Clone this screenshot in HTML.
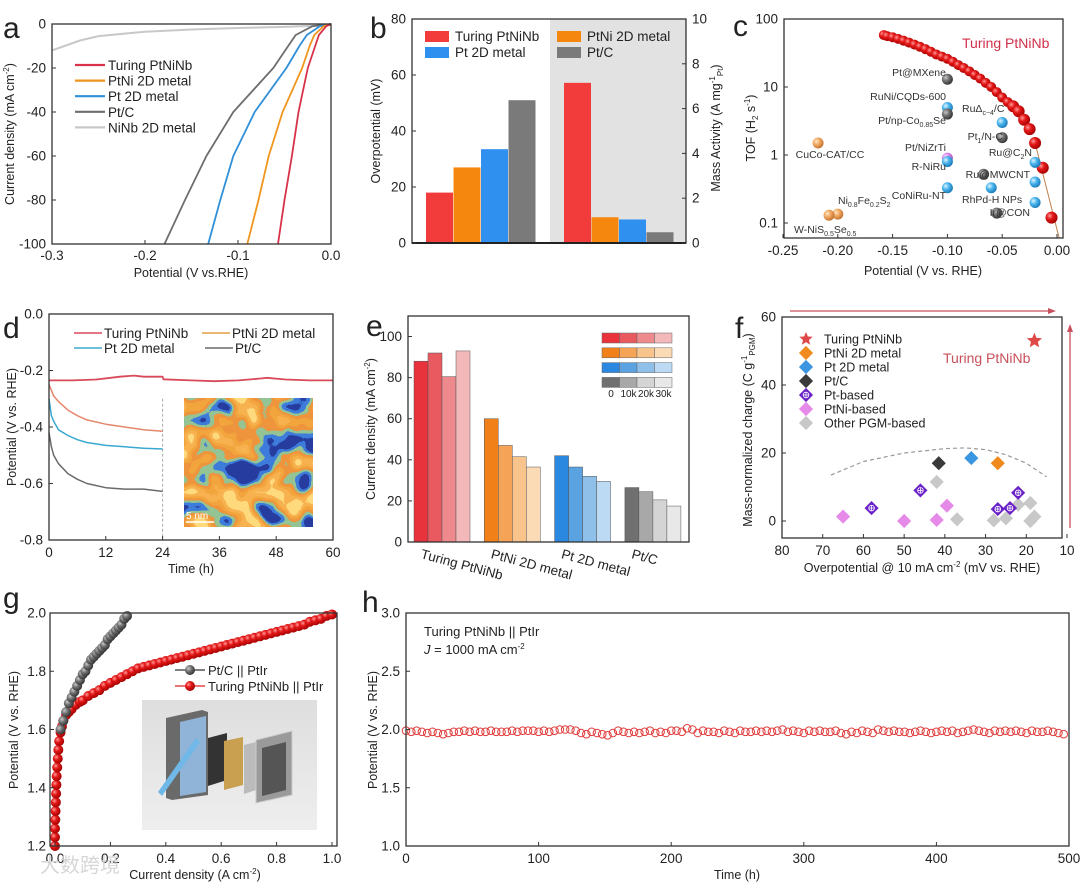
<!DOCTYPE html>
<html><head><meta charset="utf-8"><style>
html,body{margin:0;padding:0;background:#fff}
svg{display:block;font-family:"Liberation Sans","Noto Sans CJK SC",sans-serif}
</style></head><body>
<svg id="fig" width="1080" height="883" viewBox="0 0 1080 883" xmlns="http://www.w3.org/2000/svg">
<defs>
<radialGradient id="gRed" cx="35%" cy="35%" r="70%"><stop offset="0" stop-color="#ff9a9a"/><stop offset="0.4" stop-color="#e41818"/><stop offset="1" stop-color="#a00000"/></radialGradient>
<radialGradient id="gGray" cx="35%" cy="35%" r="70%"><stop offset="0" stop-color="#c8c8c8"/><stop offset="0.45" stop-color="#707070"/><stop offset="1" stop-color="#303030"/></radialGradient>
<radialGradient id="gBlue" cx="35%" cy="35%" r="70%"><stop offset="0" stop-color="#e0f4ff"/><stop offset="0.45" stop-color="#48b4ec"/><stop offset="1" stop-color="#1a78b8"/></radialGradient>
<radialGradient id="gOrange" cx="35%" cy="35%" r="70%"><stop offset="0" stop-color="#ffe6c8"/><stop offset="0.45" stop-color="#f0a860"/><stop offset="1" stop-color="#c07030"/></radialGradient>
<radialGradient id="gPink" cx="35%" cy="35%" r="70%"><stop offset="0" stop-color="#ffe0ff"/><stop offset="0.45" stop-color="#d888e8"/><stop offset="1" stop-color="#a050c0"/></radialGradient>
<filter id="stem" x="0" y="0" width="100%" height="100%">
<feTurbulence type="fractalNoise" baseFrequency="0.035" numOctaves="2" seed="11" result="n"/>
<feColorMatrix in="n" type="matrix" values="1 0 0 0 0  1 0 0 0 0  1 0 0 0 0  0 0 0 0 1"/>
<feComponentTransfer>
<feFuncR type="linear" slope="2.2" intercept="-0.6"/>
<feFuncG type="linear" slope="2.2" intercept="-0.6"/>
<feFuncB type="linear" slope="2.2" intercept="-0.6"/>
</feComponentTransfer>
<feComponentTransfer>
<feFuncR type="discrete" tableValues="0.02 0.05 0.3 0.85 0.9 0.93 1"/>
<feFuncG type="discrete" tableValues="0.05 0.2 0.55 0.3 0.38 0.45 0.7"/>
<feFuncB type="discrete" tableValues="0.35 0.7 0.3 0.05 0.05 0.08 0.2"/>
</feComponentTransfer>
</filter>
<linearGradient id="inkBg" x1="0" y1="0" x2="0" y2="1"><stop offset="0" stop-color="#dedede"/><stop offset="1" stop-color="#eeeeee"/></linearGradient>
</defs>
</svg>
<script>
// ---------- DATA ----------
// panel a
const aJ = [0,-1,-5,-10,-20,-40,-60,-80,-100];
const aTuring = [0,-0.005,-0.013,-0.017,-0.025,-0.035,-0.042,-0.050,-0.057];
const aPtNi = [0,-0.008,-0.018,-0.023,-0.031,-0.052,-0.067,-0.078,-0.090];
const aPt = [0,-0.012,-0.026,-0.034,-0.048,-0.082,-0.105,-0.119,-0.132];
const aPtC = [0,-0.02,-0.038,-0.046,-0.062,-0.105,-0.134,-0.157,-0.179];
const aNiNbV = [-0.3,-0.27,-0.25,-0.2,-0.15,-0.1,-0.05,0];
const aNiNbJ = [-12,-7.5,-5.5,-3.5,-2.5,-1.8,-1.3,-0.5];
const aTicksX = [-0.3,-0.2,-0.1,0.0];
const aTickLabelsX = ['-0.3','-0.2','-0.1','0.0'];
const aTicksY = [0,-20,-40,-60,-80,-100];
// panel b
const bCats = ['Turing PtNiNb','PtNi 2D metal','Pt 2D metal','Pt/C'];
const bOverpot = [18,27,33.5,51];
const bMassAct = [7.15,1.15,1.05,0.48];
const bTicksL = [0,20,40,60,80];
const bTicksR = [0,2,4,6,8,10];
// panel c
const cV = [-0.158,-0.155,-0.15,-0.145,-0.14,-0.135,-0.13,-0.125,-0.12,-0.115,-0.11,-0.105,-0.10,-0.095,-0.09,-0.085,-0.08,-0.075,-0.07,-0.065,-0.06,-0.055,-0.05,-0.045,-0.04,-0.035,-0.03,-0.025,-0.02,-0.013,-0.005];
const cTOF = [58,56,54,51,48,45,42,39,36,33,30,28,26,23.5,21,19,17,15,13.3,11.5,10,8.4,7,6,5.2,4.4,3.3,2.4,1.5,0.65,0.12];
const cOthNames = ['Pt@MXene','RuNi/CQDs-600','Pt/np-Co0.85Se','RuΔ/C','Pt1/N-C','CuCo-CAT/CC','Pt/NiZrTi','R-NiRu','Ru@C2N','Ru@MWCNT','CoNiRu-NT','RhPd-H NPs','Ir@CON','Ni0.8Fe0.2S2','W-NiS0.5Se0.5','Ru@MWCNT-b','Ir@CON-b'];
const cOthV = [-0.1,-0.1,-0.1,-0.05,-0.05,-0.218,-0.1,-0.1,-0.02,-0.02,-0.1,-0.06,-0.02,-0.2,-0.208,-0.067,-0.055];
const cOthTOF = [13,5,4,3.0,1.8,1.5,0.9,0.8,0.78,0.4,0.33,0.33,0.2,0.135,0.13,0.52,0.14];
const cOthCol = ['gGray','gBlue','gGray','gBlue','gGray','gOrange','gPink','gBlue','gBlue','gBlue','gBlue','gBlue','gBlue','gOrange','gOrange','gGray','gGray'];
const cTicksX = [-0.25,-0.20,-0.15,-0.10,-0.05,0.00];
const cTicksY = [0.1,1,10,100];
// panel d
const dTuringT = [0,5,10,15,18,20,24,24.2,30,35,40,45,46,50,55,60];
const dTuringV = [-0.235,-0.235,-0.232,-0.222,-0.218,-0.222,-0.222,-0.231,-0.235,-0.238,-0.235,-0.228,-0.226,-0.232,-0.235,-0.235];
const dPtNiT = [0,1,2,4,6,8,12,16,20,24];
const dPtNiV = [-0.25,-0.29,-0.31,-0.34,-0.36,-0.375,-0.39,-0.40,-0.41,-0.415];
const dPtT = [0,0.5,1,2,4,6,8,12,16,20,24];
const dPtV = [-0.30,-0.36,-0.38,-0.41,-0.43,-0.445,-0.455,-0.465,-0.47,-0.475,-0.478];
const dPtCT = [0,0.5,1,2,4,6,8,12,16,20,24];
const dPtCV = [-0.42,-0.47,-0.50,-0.53,-0.565,-0.585,-0.60,-0.615,-0.62,-0.62,-0.628];
const dTicksX = [0,12,24,36,48,60];
const dTicksY = [0,-0.2,-0.4,-0.6,-0.8];
// panel e
const eCats = ['Turing PtNiNb','PtNi 2D metal','Pt 2D metal','Pt/C'];
const eCycles = ['0','10k','20k','30k'];
const eTuring = [88,92,80.5,93];
const ePtNi = [60,47,41.5,36.5];
const ePt = [42,36.5,32,29.5];
const ePtC = [26.5,24.5,20.5,17.5];
const eTicksY = [0,20,40,60,80,100];
// panel f
const fStarX = [18], fStarY = [53];
const fPtNi2DX = [27], fPtNi2DY = [17];
const fPt2DX = [33.5], fPt2DY = [18.5];
const fPtCX = [41.5], fPtCY = [17];
const fPtBasedX = [58,46,27,24,22], fPtBasedY = [3.8,9,3.5,3.8,8.3];
const fPtNiBasedX = [65,50,42,39.5], fPtNiBasedY = [1.3,0,0.3,4.5];
const fOtherX = [42,37,28,25,22,19,19,18], fOtherY = [11.5,0.5,0.2,0.8,4.8,5.3,0,1.3];
const fTrendX = [68,60,50,40,35,30,25,20,15], fTrendY = [13.5,17.5,20,21.3,21.5,21,19.5,17,13];
const fTicksX = [80,70,60,50,40,30,20,10];
const fTicksY = [0,20,40,60];
// panel g
const gPtCJ = [0.02,0.03,0.04,0.05,0.06,0.07,0.08,0.09,0.10,0.11,0.12,0.13,0.14,0.15,0.16,0.17,0.18,0.19,0.20,0.21,0.22,0.23,0.24,0.25,0.26];
const gPtCV = [1.6,1.63,1.66,1.69,1.71,1.73,1.75,1.77,1.79,1.80,1.82,1.84,1.85,1.86,1.87,1.88,1.89,1.91,1.92,1.93,1.94,1.95,1.96,1.98,1.99];
const gTurJ = [0,0,0,0.001,0.002,0.003,0.004,0.005,0.006,0.008,0.01,0.012,0.015,0.02,0.025,0.03,0.04,0.05,0.06,0.075,0.09,0.1,0.12,0.14,0.16,0.18,0.2,0.22,0.24,0.26,0.28,0.3,0.32,0.34,0.36,0.38,0.4,0.42,0.44,0.46,0.48,0.5,0.52,0.54,0.56,0.58,0.6,0.62,0.64,0.66,0.68,0.7,0.72,0.74,0.76,0.78,0.8,0.82,0.84,0.86,0.88,0.9,0.92,0.94,0.96,0.98,1.0];
const gTurV = [1.2,1.23,1.26,1.29,1.32,1.35,1.38,1.41,1.44,1.47,1.50,1.53,1.56,1.59,1.61,1.63,1.65,1.66,1.67,1.685,1.695,1.70,1.715,1.725,1.735,1.75,1.76,1.77,1.78,1.79,1.80,1.81,1.815,1.82,1.825,1.83,1.835,1.84,1.845,1.85,1.855,1.86,1.865,1.87,1.875,1.88,1.885,1.89,1.895,1.90,1.905,1.91,1.915,1.92,1.925,1.93,1.935,1.94,1.945,1.95,1.955,1.96,1.97,1.975,1.98,1.99,1.995];
const gTicksX = [0,0.2,0.4,0.6,0.8,1.0];
const gTicksY = [1.2,1.4,1.6,1.8,2.0];
// panel h
const hStart = 0, hStep = 4;
const hV = [1.99,1.98,1.99,1.98,1.97,1.98,1.97,1.96,1.97,1.98,1.98,1.99,1.98,1.99,1.98,1.98,1.99,1.98,1.98,1.98,1.99,1.98,1.99,1.99,1.99,1.98,1.99,1.98,1.99,2.00,2.00,2.00,1.99,1.97,1.96,1.98,1.97,1.96,1.95,1.97,1.99,1.98,1.97,1.98,1.97,1.98,1.99,1.97,1.98,1.97,1.99,1.99,1.98,2.01,2.00,1.97,1.99,1.98,1.98,1.97,1.99,1.98,1.97,1.99,1.98,1.98,1.99,1.98,1.99,1.98,1.99,2.00,1.98,1.99,1.98,1.97,1.99,1.98,1.99,1.98,1.98,1.99,1.97,1.96,1.98,1.97,1.99,1.98,1.97,2.00,1.99,1.98,1.99,1.98,1.98,1.97,1.98,1.99,1.98,1.97,1.98,1.99,1.98,1.99,1.97,1.98,1.99,2.00,1.99,1.98,1.97,1.99,1.98,1.99,1.98,1.99,1.98,1.97,1.99,1.98,1.98,1.99,1.98,1.97,1.96];
const hTicksX = [0,100,200,300,400,500];
const hTicksY = [1.0,1.5,2.0,2.5,3.0];

// ---------- HELPERS ----------
const NS = 'http://www.w3.org/2000/svg';
const svg = document.getElementById('fig');
function mk(tag, name, attrs, parent) {
  const e = document.createElementNS(NS, tag);
  
  
  for (const k in attrs) e.setAttribute(k, attrs[k]);
  (parent || svg).appendChild(e);
  return e;
}
function T(x, y, s, name, o) {
  o = o || {};
  const at = {x: x, y: y, 'font-size': o.fs || 13.5, 'text-anchor': o.a || 'middle', fill: o.c || '#222'};
  if (o.r) at.transform = 'rotate(' + o.r + ' ' + x + ' ' + y + ')';
  if (o.w) at['font-weight'] = o.w;
  const e = mk('text', name, at, o.p);
  e.innerHTML = s;
  return e;
}
function frame(x0, y0, x1, y1, name) {
  return mk('rect', name, {x: x0, y: y0, width: x1 - x0, height: y1 - y0, fill: 'none', stroke: '#333', 'stroke-width': 1.3});
}
function line(x1, y1, x2, y2, name, st, w, dash) {
  const a = {x1: x1, y1: y1, x2: x2, y2: y2, stroke: st || '#333', 'stroke-width': w || 1};
  if (dash) a['stroke-dasharray'] = dash;
  return mk('line', name, a);
}
function poly(xs, ys, sx, sy, name, col, w) {
  const pts = xs.map((v, i) => sx(v).toFixed(1) + ',' + sy(ys[i]).toFixed(1)).join(' ');
  return mk('polyline', name, {points: pts, fill: 'none', stroke: col, 'stroke-width': w || 1.8, 'stroke-linejoin': 'round'});
}
function xTicks(vals, labels, sx, yb, ly, name, fs) {
  vals.forEach((v, i) => {
    line(sx(v), yb, sx(v), yb - 4, name + '-tick', '#333', 1);
    T(sx(v), ly, labels ? labels[i] : String(v), name + '-label', {fs: fs || 13.5});
  });
}
function yTicks(vals, labels, sy, xl, lx, name, dir, fs) {
  dir = dir || 1;
  vals.forEach((v, i) => {
    line(xl, sy(v), xl + 4 * dir, sy(v), name + '-tick', '#333', 1);
    T(lx, sy(v) + 4.5, labels ? labels[i] : String(v), name + '-label', {fs: fs || 13.5, a: dir > 0 ? 'end' : 'start'});
  });
}
function letter(x, y, s) { T(x, y, s, 'panel-label-' + s, {fs: 30, a: 'start'}); }

// ---------- PANEL A ----------
const sxA = v => 52 + (v + 0.3) / 0.3 * 279;
const syA = j => 24 + (-j) / 100 * 220;
letter(3, 38, 'a');
poly(aNiNbV, aNiNbJ, sxA, syA, 'a-line-ninb', '#c8c8c8', 2);
poly(aPtC, aJ, sxA, syA, 'a-line-ptc', '#6e6e6e', 1.8);
poly(aPt, aJ, sxA, syA, 'a-line-pt', '#2f8fd8', 1.8);
poly(aPtNi, aJ, sxA, syA, 'a-line-ptni', '#f0961e', 1.8);
poly(aTuring, aJ, sxA, syA, 'a-line-turing', '#d8324a', 1.8);
frame(52, 24, 331, 244, 'a-plot-frame');
xTicks(aTicksX, aTickLabelsX, sxA, 244, 260, 'a-x');
yTicks(aTicksY, null, syA, 52, 46, 'a-y');
T(191, 277, 'Potential (V vs.RHE)', 'a-x-title', {fs: 12.5});
T(14, 134, 'Current density (mA cm<tspan dy="-5" font-size="8">-2</tspan><tspan dy="5">)</tspan>', 'a-y-title', {fs: 12.5, r: -90});
[['Turing PtNiNb', '#d8324a'], ['PtNi 2D metal', '#f0961e'], ['Pt 2D metal', '#2f8fd8'], ['Pt/C', '#6e6e6e'], ['NiNb 2D metal', '#c8c8c8']].forEach((d, i) => {
  const y = 65 + i * 15.6;
  line(75, y, 105, y, 'a-legend-line', d[1], 2.2);
  T(108, y + 5, d[0], 'a-legend-entry', {fs: 13.5, a: 'start'});
});

// ---------- PANEL B ----------
const syB = v => 243 - v / 80 * 224;
const syB2 = m => 243 - m / 10 * 224;
letter(370, 38, 'b');
mk('rect', 'b-mass-activity-bg', {x: 550, y: 19, width: 136, height: 224, fill: '#e2e2e2'});
const bColors = ['#f23c3c', '#f5870f', '#2f90f0', '#7a7a7a'];
bCats.forEach((c, i) => {
  const x = 426 + i * 27.5;
  mk('rect', 'b-bar-overpotential-' + i, {x: x, y: syB(bOverpot[i]), width: 27, height: 243 - syB(bOverpot[i]), fill: bColors[i]});
  const x2 = 564 + i * 27.5;
  mk('rect', 'b-bar-mass-activity-' + i, {x: x2, y: syB2(bMassAct[i]), width: 27, height: 243 - syB2(bMassAct[i]), fill: bColors[i]});
});
frame(412, 19, 686, 243, 'b-plot-frame');
line(412, 243, 686, 243, 'b-x-axis', '#222', 2);
yTicks(bTicksL, null, syB, 412, 406, 'b-y-left');
yTicks(bTicksR, null, syB2, 686, 692, 'b-y-right', -1);
T(380, 131, 'Overpotential (mV)', 'b-y-title-left', {fs: 12.5, r: -90});
T(720, 128, 'Mass Activity  (A mg<tspan dy="-5" font-size="8">-1</tspan><tspan dy="8" font-size="8">Pt</tspan><tspan dy="-3">)</tspan>', 'b-y-title-right', {fs: 12.5, r: -90});
[['Turing PtNiNb', 425, 39], ['Pt 2D metal', 425, 55], ['PtNi 2D metal', 557, 39], ['Pt/C', 557, 55]].forEach((d, i) => {
  const ci = [0, 2, 1, 3][i];
  mk('rect', 'b-legend-swatch', {x: d[1], y: d[2] - 8, width: 24, height: 11, fill: bColors[ci]});
  T(d[1] + 30, d[2] + 2, d[0], 'b-legend-entry', {fs: 13.5, a: 'start'});
});

// ---------- PANEL C ----------
const sxC = v => 783 + (v + 0.25) / 0.25 * 274;
const syC = t => 223 - (Math.log10(t) + 1) * 68;
letter(733, 36, 'c');
line(sxC(-0.02), syC(1.5), sxC(0.002), syC(0.06), 'c-fit-line', '#c0804a', 1);
cV.forEach((v, i) => {
  mk('circle', 'c-turing-point', {cx: sxC(v), cy: syC(cTOF[i]), r: i > 23 ? 6 : 5, fill: 'url(#gRed)'});
});
cOthV.forEach((v, i) => {
  mk('circle', 'c-ref-point-' + cOthNames[i], {cx: sxC(v), cy: syC(cOthTOF[i]), r: 5.5, fill: 'url(#' + cOthCol[i] + ')'});
});
[['Pt@MXene', 946, 76, 'end'], ['RuNi/CQDs-600', 946, 100, 'end'], ['Pt/np-Co<tspan dy="3" font-size="7">0.85</tspan><tspan dy="-3">Se</tspan>', 946, 124, 'end'],
 ['RuΔ<tspan dy="3" font-size="7">c−4</tspan><tspan dy="-3">/C</tspan>', 962, 112, 'start'], ['Pt<tspan dy="3" font-size="7">1</tspan><tspan dy="-3">/N-C</tspan>', 1003, 140, 'end'],
 ['CuCo-CAT/CC', 830, 158, 'middle'], ['Pt/NiZrTi', 946, 151, 'end'], ['R-NiRu', 946, 170, 'end'], ['Ru@C<tspan dy="3" font-size="7">2</tspan><tspan dy="-3">N</tspan>', 1032, 156, 'end'],
 ['Ru@MWCNT', 1030, 178, 'end'], ['CoNiRu-NT', 946, 199, 'end'], ['RhPd-H NPs', 962, 203, 'start'], ['Ir@CON', 1030, 216, 'end'],
 ['Ni<tspan dy="3" font-size="7">0.8</tspan><tspan dy="-3">Fe</tspan><tspan dy="3" font-size="7">0.2</tspan><tspan dy="-3">S</tspan><tspan dy="3" font-size="7">2</tspan>', 838, 204, 'start'],
 ['W-NiS<tspan dy="3" font-size="7">0.5</tspan><tspan dy="-3">Se</tspan><tspan dy="3" font-size="7">0.5</tspan>', 794, 233, 'start']].forEach(d => {
  T(d[1], d[2], d[0], 'c-point-label', {fs: 10.5, a: d[3], c: '#333'});
});
T(962, 48, 'Turing PtNiNb', 'c-turing-label', {fs: 14, a: 'start', c: '#d0314a'});
frame(784, 19, 1063, 238, 'c-plot-frame');
xTicks(cTicksX, ['-0.25', '-0.20', '-0.15', '-0.10', '-0.05', '0.00'], sxC, 238, 255, 'c-x');
yTicks(cTicksY, ['0.1', '1', '10', '100'], syC, 784, 778, 'c-y');
T(923, 275, 'Potential (V vs. RHE)', 'c-x-title', {fs: 12.5});
T(755, 128, 'TOF (H<tspan dy="3" font-size="8">2</tspan><tspan dy="-3"> s</tspan><tspan dy="-5" font-size="8">-1</tspan><tspan dy="5">)</tspan>', 'c-y-title', {fs: 12.5, r: -90});

// ---------- PANEL D ----------
const sxD = t => 49 + t / 60 * 284;
const syD = v => 314 + (-v) / 0.8 * 226;
letter(3, 338, 'd');
line(sxD(24), syD(-0.3), sxD(24), 540, 'd-divider-24h', '#aaa', 1, '3,2');
poly(dPtCT, dPtCV, sxD, syD, 'd-line-ptc', '#6a6a6a', 1.5);
poly(dPtT, dPtV, sxD, syD, 'd-line-pt', '#3aa8d0', 1.5);
poly(dPtNiT, dPtNiV, sxD, syD, 'd-line-ptni', '#e4876c', 1.5);
poly(dTuringT, dTuringV, sxD, syD, 'd-line-turing', '#d84a5a', 1.8);
const inset = mk('g', 'd-stem-inset', {});
mk('rect', 'd-inset-image', {x: 184, y: 398, width: 129, height: 129, fill: '#123', filter: 'url(#stem)'}, inset);
line(186, 522, 214, 522, 'd-scale-bar', '#fff', 1.5);
T(186, 519, '5 nm', 'd-scale-label', {fs: 10, a: 'start', c: '#fff'});
frame(49, 314, 333, 540, 'd-plot-frame');
xTicks(dTicksX, null, sxD, 540, 557, 'd-x');
yTicks(dTicksY, ['0.0', '-0.2', '-0.4', '-0.6', '-0.8'], syD, 49, 43, 'd-y');
T(191, 573, 'Time (h)', 'd-x-title', {fs: 12.5});
T(16, 427, 'Potential (V vs. RHE)', 'd-y-title', {fs: 12.5, r: -90});
[['Turing PtNiNb', 74, 333, '#d84a5a'], ['PtNi 2D metal', 202, 333, '#e4a040'], ['Pt 2D metal', 74, 348, '#3aa8d0'], ['Pt/C', 205, 348, '#6a6a6a']].forEach(d => {
  line(d[1], d[2], d[1] + 28, d[2], 'd-legend-line', d[3], 1.5);
  T(d[1] + 30, d[2] + 5, d[0], 'd-legend-entry', {fs: 13.5, a: 'start'});
});

// ---------- PANEL E ----------
const syE = v => 542 - v / 110 * 226;
letter(366, 336, 'e');
const ePal = [['#e8323c', '#e85a60', '#ee8a8e', '#f3b8ba'], ['#f28018', '#f5a356', '#f8c48c', '#fbdab6'], ['#2a88e0', '#5aa2e0', '#8ec0ea', '#bcdaf4'], ['#707070', '#a8a8a8', '#d4d4d4', '#e8e8e8']];
[eTuring, ePtNi, ePt, ePtC].forEach((vals, g) => {
  const gx = 414 + g * 70.3;
  vals.forEach((v, k) => {
    mk('rect', 'e-bar-' + g + '-' + eCycles[k], {x: gx + k * 14, y: syE(v), width: 14, height: 542 - syE(v), fill: ePal[g][k], stroke: '#555', 'stroke-width': 0.5});
  });
  T(gx + 6, 558, eCats[g], 'e-category-label', {fs: 13.5, a: 'start', r: 15});
});
ePal.forEach((row, g) => {
  row.forEach((c, k) => {
    mk('rect', 'e-legend-swatch', {x: 602 + k * 17.5, y: 333 + g * 14.8, width: 17.5, height: 10, fill: c, stroke: '#666', 'stroke-width': 0.5});
  });
});
eCycles.forEach((s, k) => T(611 + k * 17.5, 397, s, 'e-legend-label', {fs: 10}));
frame(408, 316, 689, 542, 'e-plot-frame');
yTicks(eTicksY, null, syE, 408, 402, 'e-y');
T(375, 429, 'Current density (mA cm<tspan dy="-5" font-size="8">-2</tspan><tspan dy="5">)</tspan>', 'e-y-title', {fs: 12.5, r: -90});

// ---------- PANEL F ----------
const sxF = v => 782 + (80 - v) / 70 * 285;
const syF = v => 521 - v / 60 * 204;
letter(735, 338, 'f');
function diamond(x, y, c, name, cross) {
  mk('rect', name, {x: x - 5, y: y - 5, width: 10, height: 10, fill: c, transform: 'rotate(45 ' + x + ' ' + y + ')'});
  if (cross) {
    mk('circle', name + '-mark', {cx: x, cy: y, r: 2.8, fill: 'none', stroke: '#fff', 'stroke-width': 0.8});
    line(x - 3, y, x + 3, y, name + '-mark', '#fff', 0.8);
    line(x, y - 3, x, y + 3, name + '-mark', '#fff', 0.8);
  }
}
function star(x, y, r, c, name) {
  let p = [];
  for (let k = 0; k < 10; k++) { const a = -Math.PI / 2 + k * Math.PI / 5; const rr = k % 2 ? r * 0.45 : r; p.push((x + rr * Math.cos(a)).toFixed(1) + ',' + (y + rr * Math.sin(a)).toFixed(1)); }
  mk('polygon', name, {points: p.join(' '), fill: c});
}
poly(fTrendX, fTrendY, sxF, syF, 'f-trend-line', '#999', 1.2).setAttribute('stroke-dasharray', '4,3');
fOtherX.forEach((v, i) => diamond(sxF(v), syF(fOtherY[i]), '#c8c8c8', 'f-point-other-pgm'));
fPtNiBasedX.forEach((v, i) => diamond(sxF(v), syF(fPtNiBasedY[i]), '#e58ae8', 'f-point-ptni-based'));
fPtBasedX.forEach((v, i) => diamond(sxF(v), syF(fPtBasedY[i]), '#6a22c8', 'f-point-pt-based', true));
fPtCX.forEach((v, i) => diamond(sxF(v), syF(fPtCY[i]), '#3a3a3a', 'f-point-ptc'));
fPt2DX.forEach((v, i) => diamond(sxF(v), syF(fPt2DY[i]), '#3a96e0', 'f-point-pt-2d'));
fPtNi2DX.forEach((v, i) => diamond(sxF(v), syF(fPtNi2DY[i]), '#f08a1c', 'f-point-ptni-2d'));
fStarX.forEach((v, i) => star(sxF(v), syF(fStarY[i]), 8, '#e04848', 'f-point-turing'));
T(943, 363, 'Turing PtNiNb', 'f-turing-label', {fs: 14, a: 'start', c: '#c8505a'});
const fLeg = [['Turing PtNiNb', '#e04848'], ['PtNi 2D metal', '#f08a1c'], ['Pt 2D metal', '#3a96e0'], ['Pt/C', '#3a3a3a'], ['Pt-based', '#6a22c8'], ['PtNi-based', '#e58ae8'], ['Other PGM-based', '#c8c8c8']];
fLeg.forEach((d, i) => {
  const y = 339 + i * 14;
  if (i === 0) star(806, y, 7, d[1], 'f-legend-marker'); else diamond(806, y, d[1], 'f-legend-marker', i === 4);
  T(824, y + 4.5, d[0], 'f-legend-entry', {fs: 12.5, a: 'start'});
});
frame(782, 317, 1062, 538, 'f-plot-frame');
xTicks(fTicksX, null, sxF, 538, 555, 'f-x');
yTicks(fTicksY, null, syF, 782, 776, 'f-y');
T(922, 572, 'Overpotential @ 10 mA cm<tspan dy="-5" font-size="8">-2</tspan><tspan dy="5">  (mV vs. RHE)</tspan>', 'f-x-title', {fs: 12.5});
T(752, 430, 'Mass-normalized charge  (C g<tspan dy="-5" font-size="8">-1</tspan><tspan dy="8" font-size="8">PGM</tspan><tspan dy="-3">)</tspan>', 'f-y-title', {fs: 12.5, r: -90});
line(790, 311, 1050, 311, 'f-arrow-horizontal', '#c8505a', 1.3);
mk('polygon', 'f-arrow-head-h', {points: '1056,311 1048,308 1048,314', fill: '#c8505a'});
line(1070, 528, 1070, 330, 'f-arrow-vertical', '#c8505a', 1.3);
mk('polygon', 'f-arrow-head-v', {points: '1070,324 1067,332 1073,332', fill: '#c8505a'});

// ---------- PANEL G ----------
const sxG = j => 55 + j * 277;
const syG = v => 846 - (v - 1.2) / 0.8 * 233;
letter(3, 608, 'g');
const gi = mk('g', 'g-electrolyzer-inset', {});
mk('rect', 'g-inset-bg', {x: 142, y: 700, width: 175, height: 130, fill: 'url(#inkBg)'}, gi);
mk('polygon', 'g-inset-endplate', {points: '166,718 202,710 208,712 208,795 172,800 166,798', fill: '#6a6a6a'}, gi);
mk('polygon', 'g-inset-flowfield', {points: '180,722 206,716 206,792 180,796', fill: '#8fb4d8'}, gi);
mk('polygon', 'g-inset-tube', {points: '158,792 162,796 200,742 196,738', fill: '#6fb8e8'}, gi);
mk('polygon', 'g-inset-mesh', {points: '208,738 227,733 227,780 208,786', fill: '#333'}, gi);
mk('polygon', 'g-inset-membrane', {points: '224,741 243,737 243,785 224,790', fill: '#c8a050'}, gi);
mk('polygon', 'g-inset-gasket', {points: '244,745 256,742 256,790 244,794', fill: '#bbb'}, gi);
mk('polygon', 'g-inset-plate', {points: '256,740 292,731 292,795 256,803', fill: '#9a9a9a', stroke: '#ccc'}, gi);
mk('polygon', 'g-inset-plate-grid', {points: '262,748 286,742 286,790 262,796', fill: '#555'}, gi);
gTurJ.forEach((j, i) => mk('circle', 'g-turing-point', {cx: sxG(j), cy: syG(gTurV[i]), r: 5, fill: 'url(#gRed)'}));
gPtCJ.forEach((j, i) => mk('circle', 'g-ptc-point', {cx: sxG(j), cy: syG(gPtCV[i]), r: 5, fill: 'url(#gGray)'}));
line(175, 670, 205, 670, 'g-legend-line-ptc', '#333', 1.3);
mk('circle', 'g-legend-marker-ptc', {cx: 190, cy: 670, r: 5, fill: 'url(#gGray)'});
T(208, 675, 'Pt/C || PtIr', 'g-legend-entry', {fs: 13, a: 'start'});
line(175, 686, 205, 686, 'g-legend-line-turing', '#e02020', 1.3);
mk('circle', 'g-legend-marker-turing', {cx: 190, cy: 686, r: 5, fill: 'url(#gRed)'});
T(208, 691, 'Turing PtNiNb || PtIr', 'g-legend-entry', {fs: 13, a: 'start'});
frame(50, 613, 337, 846, 'g-plot-frame');
xTicks(gTicksX, ['0.0', '0.2', '0.4', '0.6', '0.8', '1.0'], sxG, 846, 863, 'g-x');
yTicks(gTicksY, ['1.2', '1.4', '1.6', '1.8', '2.0'], syG, 50, 46, 'g-y');
T(195, 879, 'Current density   (A cm<tspan dy="-5" font-size="8">-2</tspan><tspan dy="5">)</tspan>', 'g-x-title', {fs: 12.5});
T(18, 730, 'Potential (V vs. RHE)', 'g-y-title', {fs: 12.5, r: -90});
T(40, 872, '大数跨境', 'watermark', {fs: 20, a: 'start', c: '#d6d6d6'});

// ---------- PANEL H ----------
const sxH = t => 406 + t / 500 * 663;
const syH = v => 846 - (v - 1) / 2 * 233;
letter(362, 612, 'h');
hV.forEach((v, i) => {
  const t = hStart + i * hStep;
  mk('circle', 'h-stability-point', {cx: sxH(t), cy: syH(v), r: 3.8, fill: 'none', stroke: '#e03a3a', 'stroke-width': 1});
});
frame(406, 613, 1069, 846, 'h-plot-frame');
xTicks(hTicksX, null, sxH, 846, 863, 'h-x');
yTicks(hTicksY, ['1.0', '1.5', '2.0', '2.5', '3.0'], syH, 406, 400, 'h-y');
T(737, 879, 'Time (h)', 'h-x-title', {fs: 12.5});
T(377, 730, 'Potential (V vs. RHE)', 'h-y-title', {fs: 12.5, r: -90});
T(424, 636, 'Turing PtNiNb || PtIr', 'h-annotation-1', {fs: 13, a: 'start'});
T(424, 654, '<tspan font-style="italic">J</tspan> = 1000 mA cm<tspan dy="-5" font-size="8">-2</tspan>', 'h-annotation-2', {fs: 13, a: 'start'});
</script>
</body></html>
